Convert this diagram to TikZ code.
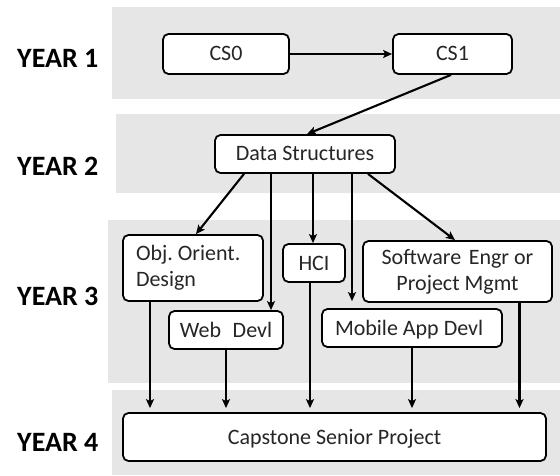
\documentclass[tikz,border=0pt]{standalone}
\usepackage{fontspec}
\setmainfont{Carlito}
\usetikzlibrary{arrows.meta,calc}
\definecolor{bandgray}{RGB}{230,230,230}
\newcommand\boxfont{\fontsize{22}{26}\selectfont\frenchspacing}
\newcommand\yearfont{\fontsize{28}{32}\selectfont\bfseries}
\begin{document}
\begin{tikzpicture}[x=1pt,y=-1pt,
  band/.style={fill=bandgray,draw=none},
  box/.style={draw,line width=1.8pt,rounded corners=5.5pt,fill=white,font=\boxfont,inner sep=0pt,text=black!85},
  onel/.style={box,text height=14pt,text depth=0pt},
  arr/.style={-{Stealth[length=9pt,width=8pt,inset=2pt]},line width=2.1pt},
  yearlbl/.style={font=\yearfont,anchor=base west,inner sep=0pt}]
\useasboundingbox (0,0) rectangle (560,476);
% bands
\fill[band] (112,7) rectangle (560,99);
\fill[band] (116,114) rectangle (560,193);
\fill[band] (108,220) rectangle (560,383);
\fill[band] (112,390) rectangle (560,475);
% year labels
\node[yearlbl] (y1) at (17,68) {YEAR 1};
\node[yearlbl] (y2) at (17,176) {YEAR 2};
\node[yearlbl] (y3) at (17,305) {YEAR 3};
\node[yearlbl] (y4) at (17,451) {YEAR 4};
% nodes
\node[onel,minimum width=126pt,minimum height=40pt] (cs0) at (226,54) {CS0};
\node[onel,minimum width=119pt,minimum height=40pt] (cs1) at (452.5,54) {CS1};
\node[onel,minimum width=180pt,minimum height=38pt] (ds) at (305,154) {Data Structures};
\node[box,minimum width=140pt,minimum height=66pt,inner xsep=13pt,text width=114pt,align=flush left] (obj) at (193,268) {Obj. Orient.\\Design};
\node[onel,minimum width=62pt,minimum height=38pt] (hci) at (314,263) {HCI};
\node[box,minimum width=189pt,minimum height=61pt,text width=180pt,align=flush center] (sw) at (457.5,271.5) {Software\hspace{0.12em} Engr or\\Project Mgmt};
\node[onel,minimum width=114pt,minimum height=38pt] (web) at (226,330) {Web\hspace{0.3em} Devl};
\node[onel,minimum width=180pt,minimum height=38pt,inner xsep=13pt,text width=154pt,align=flush left] (mob) at (412,328) {Mobile App Devl};
\node[onel,minimum width=423pt,minimum height=48pt] (cap) at (334.5,437) {Capstone Senior Project};
% connectors
\draw[arr] (cs0.east) -- (cs1.west);
\draw[arr] ([xshift=-1.5pt]cs1.south) -- ([xshift=2pt]ds.north);
\draw[arr] ([xshift=-61pt]ds.south) -- ([xshift=3pt]obj.north);
\draw[arr] ([xshift=-34pt]ds.south) -- ([xshift=-34pt]ds.south |- web.north);
\draw[arr] ([xshift=8pt]ds.south) -- ([xshift=8pt]ds.south |- hci.north);
\draw[arr,shorten >=7pt] ([xshift=47pt]ds.south) -- ([xshift=47pt]ds.south |- mob.north);
\draw[arr] ([xshift=63pt]ds.south) -- ([xshift=-2.5pt]sw.north);
\draw[arr,shorten >=4pt] ([xshift=-43pt]obj.south) -- ([xshift=-43pt]obj.south |- cap.north);
\draw[arr,shorten >=4pt] (web.south) -- (web.south |- cap.north);
\draw[arr,shorten >=4pt] ([xshift=-4pt]hci.south) -- ([xshift=-4pt]hci.south |- cap.north);
\draw[arr,shorten >=4pt] (mob.south) -- (mob.south |- cap.north);
\draw[arr,shorten >=4pt] ([xshift=62pt]sw.south) -- ([xshift=62pt]sw.south |- cap.north);
\end{tikzpicture}
\end{document}
